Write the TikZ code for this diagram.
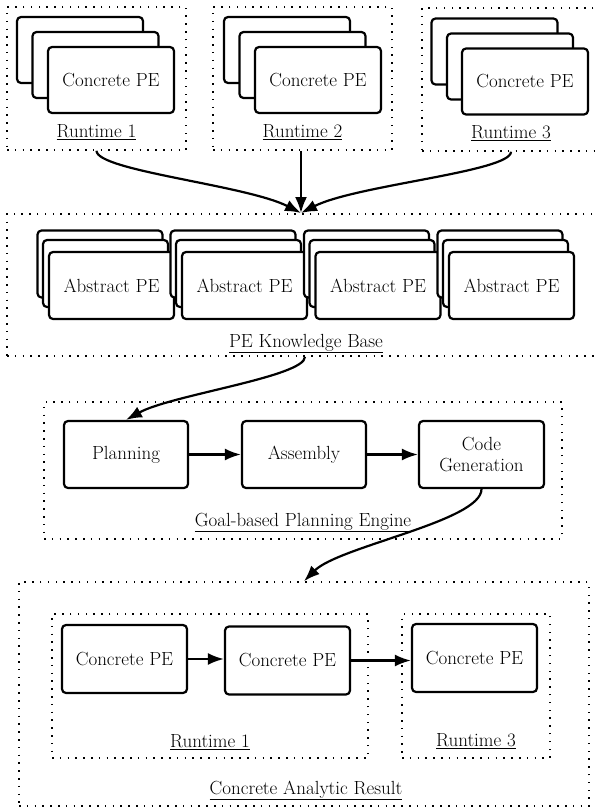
\documentclass[tikz,border=0pt]{standalone}
\usetikzlibrary{arrows.meta}
\begin{document}
\begin{tikzpicture}[x=1pt,y=1pt,
  every node/.style={font=\fontsize{19}{21.1}\selectfont},
  pebox/.style={draw, fill=white, line width=2.2pt, rounded corners=4pt,
    minimum width=125pt, minimum height=67pt, inner sep=0pt, align=center},
  frame/.style={draw, line width=1.5pt, dash pattern=on 1.5pt off 6.3pt,
    inner sep=0pt},
  caption/.style={anchor=base, inner sep=0pt},
  flow/.style={line width=2.2pt, -{Latex[length=16pt,width=12pt]}}]
\clip (0,0) rectangle (598,-808);

% --- runtimes with concrete PEs ---
\node[frame, minimum width=179pt, minimum height=143pt] (rt1) at (96.5,-78.5) {};
\node[frame, minimum width=179pt, minimum height=143pt] (rt2) at (302.5,-78.5) {};
\node[frame, minimum width=178pt, minimum height=143pt] (rt3) at (511,-79.5) {};

\node[pebox, minimum width=126pt, minimum height=66pt] (c1a) at (80,-50) {};
\node[pebox, minimum width=126pt, minimum height=66pt] (c1b) at (95.5,-65) {};
\node[pebox, minimum width=126pt, minimum height=66pt] (c1c) at (111,-80) {Concrete PE};
\node[pebox, minimum width=126pt, minimum height=66pt] (c2a) at (287,-50) {};
\node[pebox, minimum width=126pt, minimum height=66pt] (c2b) at (302.5,-65) {};
\node[pebox, minimum width=126pt, minimum height=66pt] (c2c) at (318,-80) {Concrete PE};
\node[pebox, minimum width=126pt, minimum height=66pt] (c3a) at (494.5,-51.5) {};
\node[pebox, minimum width=126pt, minimum height=66pt] (c3b) at (510,-66.5) {};
\node[pebox, minimum width=126pt, minimum height=66pt] (c3c) at (525,-81.5) {Concrete PE};

\node[caption] (l1) at (96.5,-137) {\underline{Runtime 1}};
\node[caption] (l2) at (302.5,-137) {\underline{Runtime 2}};
\node[caption] (l3) at (511,-138) {\underline{Runtime 3}};

% --- knowledge base of abstract PEs ---
\node[frame, minimum width=596pt, minimum height=142pt] (kb) at (305,-285) {};
\foreach \i/\cx in {1/111.5, 2/244.5, 3/378, 4/511.5} {
  \node[pebox] (a\i a) at (\cx-11.5,-264) {};
  \node[pebox] (a\i b) at (\cx-6,-273.5) {};
  \node[pebox] (a\i c) at (\cx,-285.5) {Abstract PE};
}
\node[caption] (lkb) at (306,-347) {\underline{PE Knowledge Base}};
\coordinate (kbin) at (301,-213);

% --- planning engine ---
\node[frame, minimum width=518pt, minimum height=137pt] (gpe) at (303,-470.5) {};
\node[pebox, minimum width=124pt] (plan) at (126,-454.5) {Planning};
\node[pebox, minimum width=124pt] (asm) at (304,-454.5) {Assembly};
\node[pebox] (gen) at (481.5,-454.5) {Code\\Generation};
\node[caption] (lgpe) at (303,-526) {\underline{Goal-based Planning Engine}};

% --- concrete result ---
\node[frame, minimum width=570pt, minimum height=224pt] (res) at (304,-694) {};
\node[frame, minimum width=316pt, minimum height=144pt] (rb1) at (210,-686) {};
\node[frame, minimum width=148pt, minimum height=144pt] (rb3) at (476,-686) {};
\node[pebox, minimum height=68pt] (r1) at (124.5,-659) {Concrete PE};
\node[pebox, minimum height=68pt] (r2) at (287.5,-660.5) {Concrete PE};
\node[pebox, minimum height=68pt] (r3) at (474.5,-658) {Concrete PE};
\node[caption] (lrb1) at (210,-747) {\underline{Runtime 1}};
\node[caption] (lrb3) at (476,-746) {\underline{Runtime 3}};
\node[caption] (lres) at (306,-794) {\underline{Concrete Analytic Result}};

% --- connectors ---
\draw[flow] (rt1.south) .. controls +(0,-20) and +(-55,28) .. (kbin);
\draw[flow] (kbin |- rt2.south) -- (kbin);
\draw[flow] (rt3.south) .. controls +(0,-20) and +(55,28) .. (kbin);
\draw[flow] (kb.south) .. controls +(0,-20) and +(45,25) .. (plan.north);
\draw[flow] (plan.east) -- (asm.west);
\draw[flow] (asm.east) -- (gen.west);
\draw[flow] (gen.south) .. controls +(0,-32) and +(35,35) .. (res.north);
\draw[flow] (r1.east) -- (r1.east -| r2.west);
\draw[flow] (r2.east) -- (r2.east -| r3.west);
\end{tikzpicture}
\end{document}
